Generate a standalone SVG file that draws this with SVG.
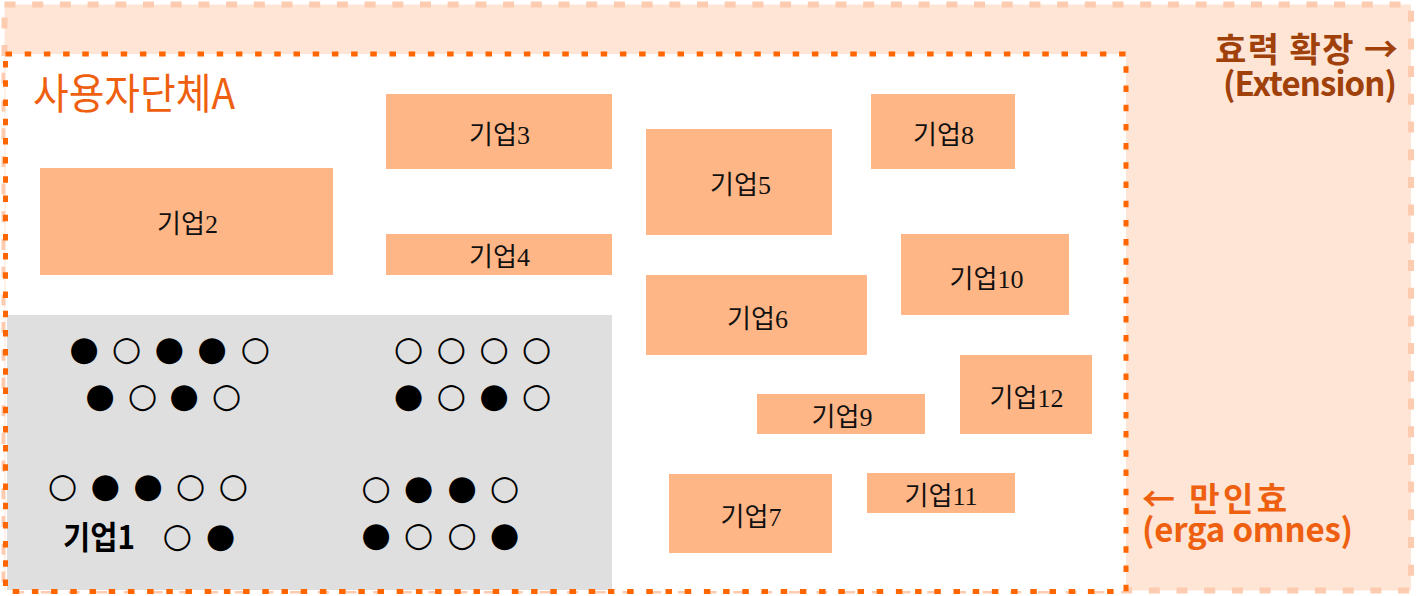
<svg xmlns="http://www.w3.org/2000/svg" width="1424" height="596" viewBox="0 0 1424 596">
  <style>
    .node { fill: #FFB686; }
    .lbl { font-family: "Liberation Serif", "Noto Sans CJK KR", serif; font-size: 26px; fill: #111; text-anchor: middle; }
    .dot { font-family: "DejaVu Sans", sans-serif; font-size: 34px; fill: #000; text-anchor: middle; }
    .kr { font-family: "Noto Sans CJK KR", "Noto Sans", sans-serif; }
  </style>
  <rect width="1424" height="596" fill="#FFFFFF"/>
  <g id="extension-area">
    <rect x="4.5" y="4.5" width="1406.5" height="586" fill="#FEE5D5" stroke="#FDCBB0" stroke-width="6" stroke-dasharray="11 16.7"/>
    <text class="kr" font-size="33" font-weight="bold" fill="#A0400A" text-anchor="end"><tspan x="1398" y="62" font-size="34" textLength="183">효력 확장 →</tspan><tspan x="1397" y="96" textLength="174">(Extension)</tspan></text>
  </g>
  <g id="group-A">
    <rect x="5.5" y="54" width="1120.5" height="537" fill="#FFFFFF"/>
    <rect x="7" y="315" width="605" height="275" fill="#DFDFDF"/>
    <rect x="5.5" y="54" width="1120.5" height="537.5" fill="none" stroke="#FF6600" stroke-width="5" stroke-dasharray="6.5 12.7"/>
    <text class="kr" x="33" y="109" font-size="42" fill="#EE5F10" textLength="202" lengthAdjust="spacingAndGlyphs">사용자단체A</text>
    <text class="kr" font-size="33" font-weight="bold" fill="#EE5F10"><tspan x="1142" y="511" textLength="145">← 만인효</tspan><tspan x="1142" y="542" textLength="211">(erga omnes)</tspan></text>
  </g>
  <g id="node-1">
    <text class="dot" y="360"><tspan x="84">●</tspan><tspan x="126.7">○</tspan><tspan x="169.3">●</tspan><tspan x="212">●</tspan><tspan x="255.3">○</tspan></text>
    <text class="dot" y="407"><tspan x="100">●</tspan><tspan x="142.7">○</tspan><tspan x="184">●</tspan><tspan x="226.7">○</tspan></text>
    <text class="dot" y="360"><tspan x="408.7">○</tspan><tspan x="451.3">○</tspan><tspan x="494">○</tspan><tspan x="536.7">○</tspan></text>
    <text class="dot" y="407"><tspan x="408.7">●</tspan><tspan x="451.3">○</tspan><tspan x="494">●</tspan><tspan x="536.7">○</tspan></text>
    <text class="dot" y="497"><tspan x="62.7">○</tspan><tspan x="105.3">●</tspan><tspan x="148">●</tspan><tspan x="190.7">○</tspan><tspan x="233.3">○</tspan></text>
    <text class="dot" y="547"><tspan x="177.3">○</tspan><tspan x="220.7">●</tspan></text>
    <text class="dot" y="499"><tspan x="376">○</tspan><tspan x="418.7">●</tspan><tspan x="462">●</tspan><tspan x="504.7">○</tspan></text>
    <text class="dot" y="546"><tspan x="376">●</tspan><tspan x="418.7">○</tspan><tspan x="462">○</tspan><tspan x="504.7">●</tspan></text>
    <text class="kr" x="63" y="549" font-size="32" font-weight="bold" fill="#000" textLength="72" lengthAdjust="spacingAndGlyphs">기업1</text>
  </g>
  <g id="node-2"><rect class="node" x="40" y="168" width="293" height="107"/><text class="lbl" x="187.5" y="233">기업2</text></g>
  <g id="node-3"><rect class="node" x="386" y="94" width="226" height="75"/><text class="lbl" x="499.5" y="144">기업3</text></g>
  <g id="node-4"><rect class="node" x="386" y="234" width="226" height="41"/><text class="lbl" x="499.5" y="266">기업4</text></g>
  <g id="node-5"><rect class="node" x="646" y="129" width="186" height="106"/><text class="lbl" x="740.5" y="194">기업5</text></g>
  <g id="node-6"><rect class="node" x="646" y="275" width="221" height="80"/><text class="lbl" x="757.5" y="328">기업6</text></g>
  <g id="node-7"><rect class="node" x="669" y="474" width="163" height="79"/><text class="lbl" x="751" y="526">기업7</text></g>
  <g id="node-8"><rect class="node" x="871" y="94" width="144" height="75"/><text class="lbl" x="943.5" y="144">기업8</text></g>
  <g id="node-9"><rect class="node" x="757" y="394" width="168" height="40"/><text class="lbl" x="842" y="426">기업9</text></g>
  <g id="node-10"><rect class="node" x="901" y="234" width="168" height="81"/><text class="lbl" x="986.5" y="288">기업10</text></g>
  <g id="node-11"><rect class="node" x="867" y="473" width="148" height="40"/><text class="lbl" x="941" y="505">기업11</text></g>
  <g id="node-12"><rect class="node" x="960" y="355" width="132" height="79"/><text class="lbl" x="1026.5" y="407">기업12</text></g>
  <g id="connectors"/>
</svg>
